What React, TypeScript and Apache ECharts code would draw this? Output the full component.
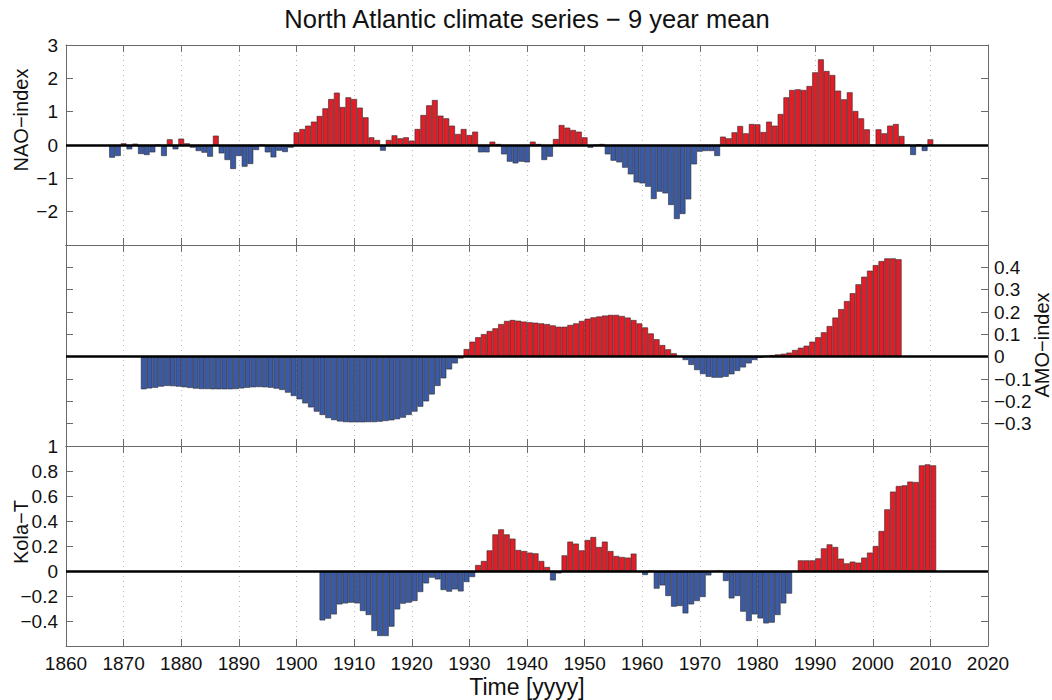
import React, { useEffect, useRef } from "react";
import * as echarts from "echarts";

// ---- data (9-year running means) ----
const naoStartYear = 1868;
const naoValues = [
  -0.38, -0.33, 0.05, -0.13, 0.04, -0.27, -0.3, -0.22, 0.0, -0.33, // 1868-1877
  0.17, -0.13, 0.19, 0.05, -0.08, -0.18, -0.23, -0.35, 0.28, -0.25, // 1878-1887
  -0.45, -0.72, -0.33, -0.65, -0.57, -0.15, 0.0, -0.22, -0.37, -0.17, // 1888-1897
  -0.21, -0.08, 0.38, 0.48, 0.58, 0.7, 0.87, 1.1, 1.38, 1.57, // 1898-1907
  1.14, 1.43, 1.38, 1.12, 0.83, 0.23, 0.15, -0.17, 0.15, 0.29, // 1908-1917
  0.2, 0.23, 0.13, 0.48, 0.9, 1.19, 1.35, 0.88, 0.8, 0.58, // 1918-1927
  0.33, 0.48, 0.3, 0.4, -0.22, -0.22, 0.1, 0.03, -0.28, -0.5, // 1928-1937
  -0.55, -0.5, -0.52, 0.1, 0.03, -0.45, -0.35, 0.18, 0.6, 0.52, // 1938-1947
  0.45, 0.4, 0.23, -0.08, 0.0, 0.03, -0.28, -0.47, -0.52, -0.68, // 1948-1957
  -0.88, -1.12, -1.15, -1.25, -1.62, -1.4, -1.45, -1.8, -2.22, -2.07, // 1958-1967
  -1.63, -0.58, -0.2, -0.18, -0.18, -0.33, 0.25, 0.2, 0.38, 0.57, // 1968-1977
  0.35, 0.63, 0.62, 0.39, 0.7, 0.58, 0.93, 1.43, 1.65, 1.67, // 1978-1987
  1.65, 1.77, 2.18, 2.57, 2.22, 2.1, 1.63, 1.37, 1.58, 1.02, // 1988-1997
  0.8, 0.47, 0.0, 0.47, 0.35, 0.58, 0.63, 0.27, 0.0, -0.3, // 1998-2007
  0.02, -0.18, 0.17, // 2008-2010
];

const amoStartYear = 1873;
const amoValues = [
  -0.146, -0.142, -0.139, -0.134, -0.131, -0.132, -0.134, -0.137, -0.14, -0.143, // 1873-1882
  -0.145, -0.145, -0.146, -0.146, -0.146, -0.146, -0.145, -0.142, -0.139, -0.137, // 1883-1892
  -0.136, -0.137, -0.139, -0.143, -0.149, -0.161, -0.176, -0.191, -0.209, -0.227, // 1893-1902
  -0.246, -0.261, -0.275, -0.284, -0.29, -0.293, -0.294, -0.294, -0.294, -0.293, // 1903-1912
  -0.293, -0.291, -0.288, -0.285, -0.28, -0.273, -0.261, -0.246, -0.224, -0.2, // 1913-1922
  -0.169, -0.131, -0.097, -0.057, -0.03, -0.008, 0.034, 0.067, 0.087, 0.101, // 1923-1932
  0.115, 0.127, 0.146, 0.16, 0.164, 0.161, 0.157, 0.154, 0.152, 0.149, // 1933-1942
  0.146, 0.14, 0.134, 0.134, 0.142, 0.149, 0.16, 0.17, 0.176, 0.18, // 1943-1952
  0.184, 0.187, 0.187, 0.182, 0.175, 0.164, 0.149, 0.131, 0.104, 0.078, // 1953-1962
  0.052, 0.033, 0.015, 0.003, -0.015, -0.037, -0.06, -0.078, -0.09, -0.094, // 1963-1972
  -0.094, -0.09, -0.079, -0.064, -0.048, -0.03, -0.015, -0.005, 0.003, 0.007, // 1973-1982
  0.01, 0.013, 0.018, 0.03, 0.04, 0.049, 0.067, 0.087, 0.109, 0.137, // 1983-1992
  0.175, 0.213, 0.249, 0.284, 0.324, 0.358, 0.385, 0.41, 0.428, 0.44, // 1993-2002
  0.44, 0.436, // 2003-2004
];

const kolaStartYear = 1904;
const kolaValues = [
  -0.395, -0.381, -0.347, -0.267, -0.259, -0.253, -0.259, -0.32, -0.352, -0.48, // 1904-1913
  -0.52, -0.52, -0.445, -0.307, -0.261, -0.253, -0.24, -0.168, -0.099, -0.053, // 1914-1923
  -0.067, -0.152, -0.165, -0.147, -0.163, -0.088, -0.048, 0.048, 0.08, 0.165, // 1924-1933
  0.293, 0.333, 0.293, 0.259, 0.168, 0.16, 0.147, 0.141, 0.08, 0.032, // 1934-1943
  -0.075, -0.019, 0.125, 0.235, 0.219, 0.165, 0.248, 0.272, 0.192, 0.235, // 1944-1953
  0.16, 0.12, 0.112, 0.107, 0.139, -0.008, -0.032, 0.0, -0.141, -0.115, // 1954-1963
  -0.2, -0.285, -0.28, -0.339, -0.267, -0.24, -0.208, -0.035, -0.005, 0.0, // 1964-1973
  -0.08, -0.219, -0.2, -0.325, -0.4, -0.347, -0.379, -0.419, -0.413, -0.352, // 1974-1983
  -0.259, -0.181, -0.008, 0.085, 0.085, 0.085, 0.101, 0.181, 0.213, 0.192, // 1984-1993
  0.099, 0.061, 0.075, 0.067, 0.107, 0.147, 0.2, 0.32, 0.493, 0.635, // 1994-2003
  0.68, 0.685, 0.715, 0.712, 0.845, 0.853, 0.845, // 2004-2010
];

const xTicks = { min: 1860, max: 2020, interval: 10 };
const naoAxis = { min: -3, max: 3, interval: 1, shown: [-2, -1, 0, 1, 2, 3] };
const amoAxis = { min: -0.4, max: 0.5, interval: 0.1, shown: [-0.3, -0.2, -0.1, 0, 0.1, 0.2, 0.3, 0.4] };
const kolaAxis = { min: -0.6, max: 1, interval: 0.2, shown: [-0.4, -0.2, 0, 0.2, 0.4, 0.6, 0.8, 1] };

const titleText = "North Atlantic climate series \u2212 9 year mean";
const xName = "Time [yyyy]";
const naoName = "NAO\u2212index";
const amoName = "AMO\u2212index";
const kolaName = "Kola\u2212T";

// ---- style ----
const RED = "#E11D27";
const BLUE = "#3A5AA6";
const EDGE = "#2b2b2b";
const AXIS = "#6a6a6a";
const FONT = "'Liberation Sans', Arial, Helvetica, sans-serif";
const LEFT = 66;
const PLOT_W = 922;
const PANELS = [
  { top: 45, height: 200 },
  { top: 245, height: 201 },
  { top: 446, height: 200 },
];
const BAR_W = PLOT_W / (xTicks.max - xTicks.min);

function fmt(v: number, shown: number[]) {
  const r = Math.round(v * 10) / 10;
  if (!shown.some((s) => Math.abs(s - r) < 1e-6)) return "";
  return String(r).replace("-", "\u2212");
}

function barData(start: number, values: number[], offset: number) {
  return values.map((v, i) => ({
    value: [start + i + offset, v],
    itemStyle: { color: v >= 0 ? RED : BLUE },
  }));
}

export default function App() {
  const ref = useRef<HTMLDivElement>(null);

  useEffect(() => {
    document.body.style.margin = "0";
    if (!ref.current) return;
    const chart = echarts.init(ref.current, undefined, { renderer: "svg" });

    const axes = [naoAxis, amoAxis, kolaAxis];
    const labelSide = ["left", "right", "left"];

    const xAxis: any[] = [];
    const yAxis: any[] = [];
    PANELS.forEach((_, i) => {
      const base = {
        type: "value",
        gridIndex: i,
        min: xTicks.min,
        max: xTicks.max,
        interval: xTicks.interval,
        axisLine: { show: true, onZero: false, lineStyle: { color: AXIS, width: 1 } },
        axisTick: { show: true, inside: true, length: 7, lineStyle: { color: AXIS } },
      };
      xAxis.push({
        ...base,
        position: "bottom",
        splitLine: { show: true, lineStyle: { color: "#b8b8b8", type: [1, 4], width: 1 } },
        axisLabel: {
          show: i === 2,
          color: "#111",
          fontFamily: FONT,
          fontSize: 19,
          margin: 8,
          formatter: (v: number) => String(Math.round(v)),
        },
      });
      xAxis.push({ ...base, position: "top", splitLine: { show: false }, axisLabel: { show: false } });

      const a = axes[i];
      ["left", "right"].forEach((side) => {
        yAxis.push({
          type: "value",
          gridIndex: i,
          position: side,
          min: a.min,
          max: a.max,
          interval: a.interval,
          axisLine: { show: true, onZero: false, lineStyle: { color: AXIS, width: 1 } },
          axisTick: { show: true, inside: true, length: 7, lineStyle: { color: AXIS } },
          splitLine: { show: false },
          axisLabel: {
            show: side === labelSide[i],
            color: "#111",
            fontFamily: FONT,
            fontSize: 19,
            margin: side === "right" ? 6 : 8,
            formatter: (v: number) => fmt(v, a.shown),
          },
        });
      });
    });

    const zeroLine = {
      silent: true,
      symbol: ["none", "none"],
      label: { show: false },
      lineStyle: { color: "#000", width: 2.5, type: "solid" },
      data: [{ yAxis: 0 }],
    };

    const mkSeries = (i: number, data: any[]) => ({
      type: "bar",
      xAxisIndex: 2 * i,
      yAxisIndex: 2 * i,
      barWidth: BAR_W,
      data,
      itemStyle: { borderColor: EDGE, borderWidth: 0.6 },
      markLine: zeroLine,
    });

    chart.setOption({
      animation: false,
      backgroundColor: "#fff",
      grid: PANELS.map((p) => ({ left: LEFT, top: p.top, width: PLOT_W, height: p.height, containLabel: false })),
      xAxis,
      yAxis,
      series: [
        mkSeries(0, barData(naoStartYear, naoValues, 0)),
        mkSeries(1, barData(amoStartYear, amoValues, 0.5)),
        mkSeries(2, barData(kolaStartYear, kolaValues, 0.5)),
      ],
      graphic: [
        {
          type: "text",
          x: 527,
          y: 19,
          style: { text: titleText, fill: "#111", font: `25.5px ${FONT}`, textAlign: "center", verticalAlign: "middle" },
        },
        {
          type: "text",
          x: 527,
          y: 687,
          style: { text: xName, fill: "#111", font: `23px ${FONT}`, textAlign: "center", verticalAlign: "middle" },
        },
        {
          type: "text",
          x: 21,
          y: 120,
          rotation: Math.PI / 2,
          style: { text: naoName, fill: "#111", font: `20px ${FONT}`, textAlign: "center", verticalAlign: "middle" },
        },
        {
          type: "text",
          x: 1042,
          y: 345,
          rotation: Math.PI / 2,
          style: { text: amoName, fill: "#111", font: `20px ${FONT}`, textAlign: "center", verticalAlign: "middle" },
        },
        {
          type: "text",
          x: 21,
          y: 532,
          rotation: Math.PI / 2,
          style: { text: kolaName, fill: "#111", font: `20px ${FONT}`, textAlign: "center", verticalAlign: "middle" },
        },
      ],
    });

    return () => chart.dispose();
  }, []);

  return <div ref={ref} style={{ width: 1052, height: 700 }} />;
}
